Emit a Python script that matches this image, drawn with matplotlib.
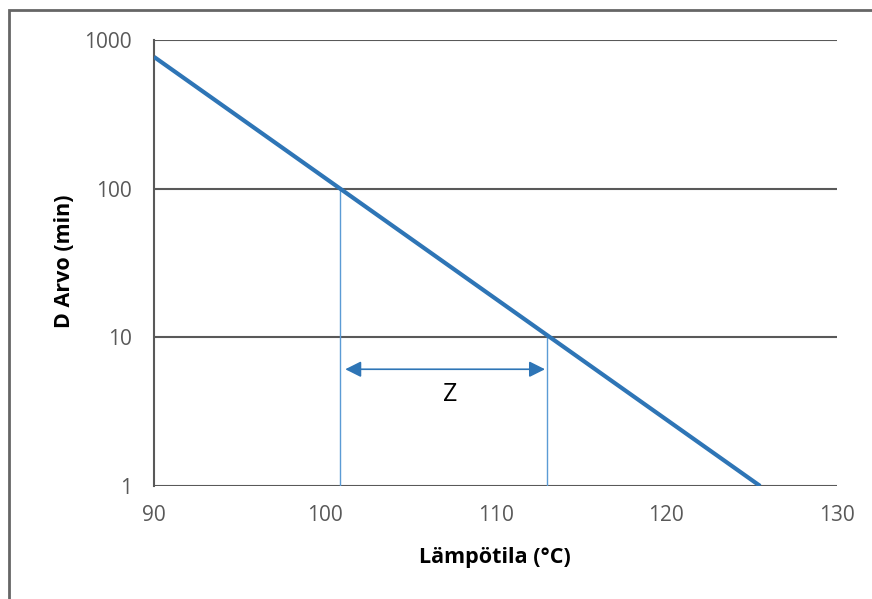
import matplotlib
matplotlib.use("Agg")
import matplotlib.pyplot as plt
from matplotlib.patches import Rectangle

plt.rcParams["font.family"] = ["Open Sans", "DejaVu Sans"]

# D-value line (temperature degC, D minutes)
line_temp = [90, 125.5]
line_d = [770, 1]

# reference lines at D = 100 and D = 10
ref_temp = [100.9, 113.0]
ref_top = [100, 10]

# arrow marking Z
arrow_x = [101.2, 112.9]
arrow_y = 6.1
z_pos = (107.35, 4.1)

x_ticks = [90, 100, 110, 120, 130]
y_ticks = [1, 10, 100, 1000]

BLUE = "#2E75B6"
LIGHT = "#5B9BD5"
GRID = "#595959"

fig = plt.figure(figsize=(8.72, 5.99), dpi=100)
ax = fig.add_axes([154 / 872, 1 - 486 / 599, (837 - 154) / 872, (486 - 40) / 599])

# outer frame (cut off at right and bottom like the screenshot)
fig.patches.append(Rectangle((9 / 872, -0.1), 1.2, 1 - 10 / 599 + 0.1,
                             transform=fig.transFigure, fill=False,
                             edgecolor="#666666", linewidth=2))

ax.set_yscale("log")
ax.set_xlim(90, 130)
ax.set_ylim(1, 1000)

for y in y_ticks:
    ax.axhline(y, color=GRID, linewidth=1.5, zorder=1)

for t, top in zip(ref_temp, ref_top):
    ax.plot([t, t], [1, top], color=LIGHT, linewidth=1, zorder=2)

ax.plot(line_temp, line_d, color=BLUE, linewidth=3, solid_capstyle="butt", zorder=3)

ax.annotate("", xy=(arrow_x[0], arrow_y), xytext=(arrow_x[1], arrow_y),
            arrowprops=dict(arrowstyle="<|-|>", color=BLUE, lw=1.2,
                            mutation_scale=24, shrinkA=0, shrinkB=0))
ax.text(z_pos[0], z_pos[1], "Z", fontsize=18, ha="center", va="center", color="black")

ax.set_xticks(x_ticks)
ax.set_xticklabels([str(v) for v in x_ticks])
ax.set_yticks(y_ticks)
ax.set_yticklabels([str(v) for v in y_ticks])
ax.minorticks_off()
ax.tick_params(length=0, labelsize=15, colors="#595959")
ax.tick_params(axis="x", pad=14)
ax.tick_params(axis="y", pad=16)

for s in ["top", "right", "bottom"]:
    ax.spines[s].set_visible(False)
ax.spines["left"].set_color(GRID)
ax.spines["left"].set_linewidth(1.5)

ax.set_xlabel("Lämpötila (°C)", fontsize=15.5, fontweight="bold", va="center")
ax.set_ylabel("D Arvo (min)", fontsize=15.5, fontweight="bold", va="center")
ax.xaxis.set_label_coords((495 - 154) / 683, (486 - 557) / 446)
ax.yaxis.set_label_coords((64 - 154) / 683, (486 - 261) / 446)

fig.savefig("out.png", dpi=100)
